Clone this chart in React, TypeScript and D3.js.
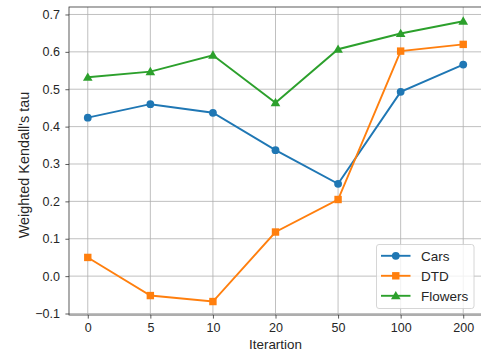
import React, { useEffect, useRef } from 'react';
import * as d3 from 'd3';

const iterations = ['0', '5', '10', '20', '50', '100', '200'];
const cars = [0.424, 0.46, 0.437, 0.337, 0.247, 0.493, 0.566];
const dtd = [0.05, -0.052, -0.068, 0.118, 0.205, 0.602, 0.62];
const flowers = [0.532, 0.547, 0.591, 0.464, 0.607, 0.649, 0.682];
const yTicks = [-0.1, 0.0, 0.1, 0.2, 0.3, 0.4, 0.5, 0.6, 0.7];

const seriesList = [
  { name: 'Cars', values: cars, color: '#1f77b4', marker: 'circle' },
  { name: 'DTD', values: dtd, color: '#ff7f0e', marker: 'square' },
  { name: 'Flowers', values: flowers, color: '#2ca02c', marker: 'triangle' },
];

const FONT = '"Liberation Sans", Arial, sans-serif';

export default function App() {
  const ref = useRef<SVGSVGElement>(null);

  useEffect(() => {
    const width = 481;
    const height = 352;
    const margin = { top: 7, right: -1, bottom: 37, left: 69 };
    const innerWidth = width - margin.left - margin.right;
    const innerHeight = height - margin.top - margin.bottom;

    const root = d3.select(ref.current)
      .attr('width', width)
      .attr('height', height);
    root.selectAll('*').remove();

    const svg = root.append('g')
      .attr('transform', `translate(${margin.left}, ${margin.top})`);

    // Scales
    const step = innerWidth / 6.6;
    const xScale = d3.scalePoint()
      .domain(iterations)
      .range([0.3 * step, innerWidth - 0.3 * step]);

    const yScale = d3.scaleLinear()
      .domain([-0.104, 0.72])
      .range([innerHeight, 0]);

    // Grid
    svg.append('g')
      .selectAll('line')
      .data(iterations)
      .join('line')
      .attr('x1', d => xScale(d)!)
      .attr('x2', d => xScale(d)!)
      .attr('y1', 0)
      .attr('y2', innerHeight)
      .attr('stroke', '#b0b0b0')
      .attr('stroke-width', 0.8);

    svg.append('g')
      .selectAll('line')
      .data(yTicks)
      .join('line')
      .attr('x1', 0)
      .attr('x2', innerWidth)
      .attr('y1', d => yScale(d))
      .attr('y2', d => yScale(d))
      .attr('stroke', '#b0b0b0')
      .attr('stroke-width', 0.8);

    // Axes
    const xAxis = svg.append('g')
      .attr('transform', `translate(0, ${innerHeight})`)
      .call(d3.axisBottom(xScale).tickSize(3.6).tickPadding(4.5).tickSizeOuter(0));
    xAxis.select('.domain').remove();

    const yAxis = svg.append('g')
      .call(d3.axisLeft(yScale).tickValues(yTicks).tickSize(3.6).tickPadding(5.5)
        .tickFormat(d => d3.format('.1f')(d as number).replace('-', '\u2212')));
    yAxis.select('.domain').remove();

    [xAxis, yAxis].forEach(ax => {
      ax.selectAll('text')
        .attr('font-family', FONT)
        .attr('font-size', 12.5)
        .attr('fill', '#262626');
      ax.selectAll('.tick line').attr('stroke', '#333').attr('stroke-width', 0.8);
    });

    // Spines
    svg.append('rect')
      .attr('x', 0)
      .attr('y', 0)
      .attr('width', innerWidth)
      .attr('height', innerHeight)
      .attr('fill', 'none')
      .attr('stroke', '#333')
      .attr('stroke-width', 0.8);

    // Lines
    const lineGen = d3.line<number>()
      .x((d, i) => xScale(iterations[i])!)
      .y(d => yScale(d));

    const drawMarker = (g: any, type: string, x: number, y: number, color: string) => {
      if (type === 'circle') {
        g.append('circle').attr('cx', x).attr('cy', y).attr('r', 3.9).attr('fill', color);
      } else if (type === 'square') {
        g.append('rect').attr('x', x - 3.7).attr('y', y - 3.7).attr('width', 7.4).attr('height', 7.4).attr('fill', color);
      } else {
        g.append('path')
          .attr('d', d3.symbol().type(d3.symbolTriangle).size(40)())
          .attr('transform', `translate(${x}, ${y + 0.7})`)
          .attr('fill', color);
      }
    };

    seriesList.forEach(s => {
      svg.append('path')
        .datum(s.values)
        .attr('d', lineGen)
        .attr('fill', 'none')
        .attr('stroke', s.color)
        .attr('stroke-width', 1.9);
      const mg = svg.append('g');
      s.values.forEach((v, i) => drawMarker(mg, s.marker, xScale(iterations[i])!, yScale(v), s.color));
    });

    // Axis labels
    root.append('text')
      .attr('x', 275.5)
      .attr('y', 349)
      .attr('text-anchor', 'middle')
      .attr('font-family', FONT)
      .attr('font-size', 13.4)
      .attr('fill', '#262626')
      .text('Iterartion');

    root.append('text')
      .attr('transform', 'translate(29, 165) rotate(-90)')
      .attr('text-anchor', 'middle')
      .attr('font-family', FONT)
      .attr('font-size', 14.4)
      .attr('fill', '#262626')
      .text("Weighted Kendall's tau");

    // Legend
    const legend = root.append('g').attr('transform', 'translate(376.5, 244.5)');
    legend.append('rect')
      .attr('width', 97.5)
      .attr('height', 64)
      .attr('rx', 2.5)
      .attr('fill', 'white')
      .attr('fill-opacity', 0.8)
      .attr('stroke', '#cccccc')
      .attr('stroke-width', 0.8);

    seriesList.forEach((s, i) => {
      const y = 11.3 + i * 20;
      const item = legend.append('g');
      item.append('line')
        .attr('x1', 4.5).attr('x2', 34)
        .attr('y1', y).attr('y2', y)
        .attr('stroke', s.color).attr('stroke-width', 1.9);
      drawMarker(item, s.marker, 19.3, y, s.color);
      item.append('text')
        .attr('x', 44.5)
        .attr('y', y + 4.8)
        .attr('font-family', FONT)
        .attr('font-size', 13.5)
        .attr('fill', '#262626')
        .text(s.name);
    });
  }, []);

  return (
    <div style={{ position: 'absolute', left: 0, top: 0 }}>
      <svg ref={ref} style={{ display: 'block' }}></svg>
    </div>
  );
}
